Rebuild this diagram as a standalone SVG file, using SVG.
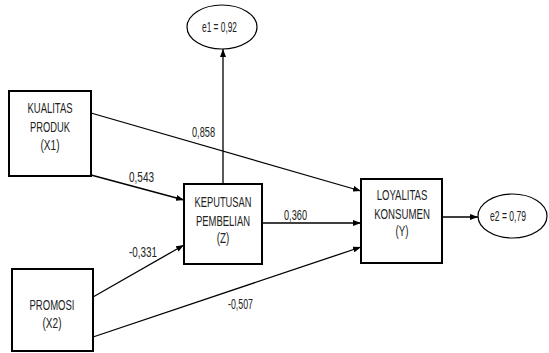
<svg xmlns="http://www.w3.org/2000/svg" width="549" height="353" viewBox="0 0 549 353">
<style>
.box{fill:#fff;stroke:#000;stroke-width:2}
.ell{fill:#fff;stroke:#000;stroke-width:1.2}
.t{font-family:"Liberation Sans",Arial,sans-serif;font-size:14.5px;fill:#222;text-anchor:middle}
.c{stroke:#000;stroke-width:1.3;fill:none;marker-end:url(#ah)}
</style>
<defs>
<marker id="ah" markerWidth="8" markerHeight="6" refX="8" refY="3" orient="auto" markerUnits="userSpaceOnUse">
<path d="M0,0 L8,3 L0,6 Z" fill="#000"/>
</marker>
</defs>
<rect width="549" height="353" fill="#fff"/>
<g id="connectors">
<line class="c" x1="91" y1="113" x2="361" y2="191"/>
<line class="c" x1="91" y1="175" x2="184" y2="200"/>
<line class="c" x1="93" y1="297" x2="184" y2="245"/>
<line class="c" x1="93" y1="337" x2="361" y2="247"/>
<line class="c" x1="262" y1="223" x2="361" y2="223"/>
<line class="c" x1="223" y1="184" x2="223" y2="49"/>
<line class="c" x1="442" y1="217" x2="478" y2="217"/>
<text class="t" x="203.5" y="137" textLength="23" lengthAdjust="spacingAndGlyphs">0,858</text>
<text class="t" x="141.5" y="182" textLength="25" lengthAdjust="spacingAndGlyphs">0,543</text>
<text class="t" x="295.5" y="220" textLength="23" lengthAdjust="spacingAndGlyphs">0,360</text>
<text class="t" x="143" y="257" textLength="28" lengthAdjust="spacingAndGlyphs">-0,331</text>
<text class="t" x="240.5" y="309" textLength="25" lengthAdjust="spacingAndGlyphs">-0,507</text>
</g>
<g id="x1">
<rect class="box" x="9" y="91" width="82" height="85"/>
<text class="t" x="50" y="113" textLength="45" lengthAdjust="spacingAndGlyphs">KUALITAS</text>
<text class="t" x="50" y="131.5" textLength="40" lengthAdjust="spacingAndGlyphs">PRODUK</text>
<text class="t" x="50" y="150" textLength="19" lengthAdjust="spacingAndGlyphs">(X1)</text>
</g>
<g id="x2">
<rect class="box" x="12" y="269" width="81" height="82"/>
<text class="t" x="52" y="310" textLength="45" lengthAdjust="spacingAndGlyphs">PROMOSI</text>
<text class="t" x="52" y="328" textLength="19" lengthAdjust="spacingAndGlyphs">(X2)</text>
</g>
<g id="z">
<rect class="box" x="184" y="184" width="78" height="80"/>
<text class="t" x="223" y="206.5" textLength="57" lengthAdjust="spacingAndGlyphs">KEPUTUSAN</text>
<text class="t" x="223" y="225.5" textLength="54" lengthAdjust="spacingAndGlyphs">PEMBELIAN</text>
<text class="t" x="223" y="243" textLength="12.6" lengthAdjust="spacingAndGlyphs">(Z)</text>
</g>
<g id="y">
<rect class="box" x="361" y="179" width="81" height="84"/>
<text class="t" x="402" y="200" textLength="50.6" lengthAdjust="spacingAndGlyphs">LOYALITAS</text>
<text class="t" x="402" y="219" textLength="55.7" lengthAdjust="spacingAndGlyphs">KONSUMEN</text>
<text class="t" x="402" y="236" textLength="13" lengthAdjust="spacingAndGlyphs">(Y)</text>
</g>
<g id="e1">
<ellipse class="ell" cx="222" cy="27" rx="35" ry="22"/>
<text class="t" x="219.5" y="31.5" textLength="35" lengthAdjust="spacingAndGlyphs">e1 = 0,92</text>
</g>
<g id="e2">
<ellipse class="ell" cx="512.5" cy="216" rx="34.5" ry="22"/>
<text class="t" x="508" y="220.5" textLength="36" lengthAdjust="spacingAndGlyphs">e2 = 0,79</text>
</g>
</svg>
